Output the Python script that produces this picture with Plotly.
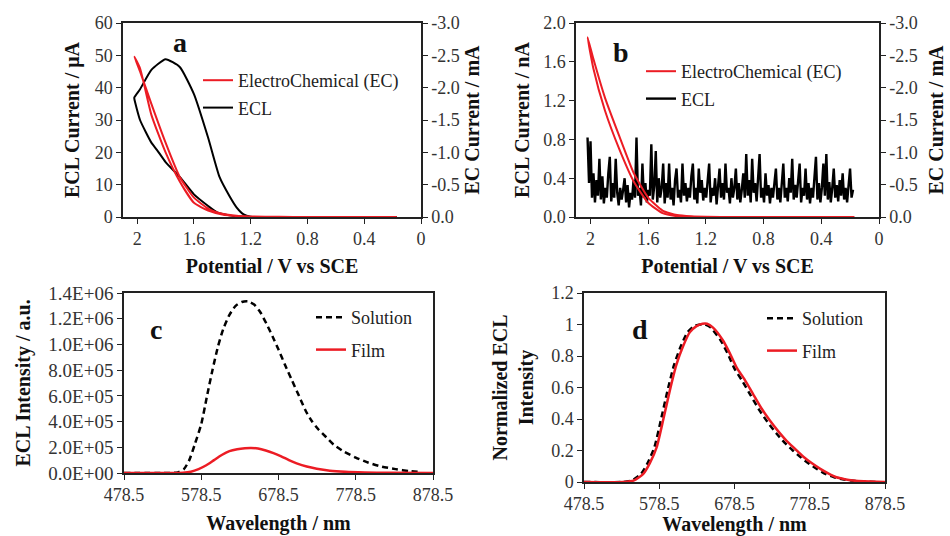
import plotly.graph_objects as go

# ---------------- Panel a : CV (EC, right axis, mA) + ECL (left axis, uA) ----------------
a_ec_v = [0.17, 0.4, 0.8, 1.0, 1.2, 1.3, 1.4, 1.5, 1.6, 1.7, 1.8, 1.9, 1.98, 2.02,
          1.98, 1.9, 1.8, 1.7, 1.6, 1.5, 1.4, 1.3, 1.2, 1.0, 0.8, 0.4, 0.17]
a_ec_ma = [0.0, 0.0, 0.0, -0.003, -0.008, -0.018, -0.05, -0.13, -0.3, -0.62, -1.15, -1.75, -2.25, -2.48,
           -2.3, -1.58, -1.0, -0.55, -0.22, -0.1, -0.04, -0.015, -0.006, 0.0, 0.0, 0.0, 0.0]
a_ecl_v = [0.17, 0.6, 1.0, 1.2, 1.25, 1.3, 1.35, 1.42, 1.5, 1.6, 1.7, 1.8, 1.9, 1.98, 2.02,
           2.02, 1.98, 1.9, 1.86, 1.8, 1.7, 1.6, 1.5, 1.44, 1.35, 1.3, 1.2, 0.17]
a_ecl_ua = [0.0, 0.0, 0.0, 0.1, 0.8, 3.0, 6.5, 12.4, 24.5, 38.0, 46.4, 48.8, 45.5, 39.5, 37.0,
            36.5, 30.0, 23.0, 20.7, 17.0, 12.4, 7.0, 3.4, 1.5, 0.5, 0.2, 0.0, 0.0]

# ---------------- Panel b : CV (EC, right axis, mA) + noisy ECL (left axis, nA) ----------------
b_ec_v = [0.17, 0.4, 0.8, 1.0, 1.2, 1.3, 1.4, 1.5, 1.6, 1.7, 1.8, 1.9, 1.98, 2.02,
          1.98, 1.9, 1.8, 1.7, 1.6, 1.5, 1.4, 1.3, 1.2, 1.0, 0.8, 0.4, 0.17]
b_ec_ma = [0.0, 0.0, 0.0, 0.0, -0.003, -0.01, -0.03, -0.1, -0.3, -0.68, -1.25, -1.85, -2.45, -2.78,
           -2.3, -1.65, -1.05, -0.55, -0.22, -0.06, -0.012, 0.0, 0.0, 0.0, 0.0, 0.0, 0.0]
b_ecl_v_start = 2.02
b_ecl_v_end = 0.18
b_ecl_na = [0.82, 0.35, 0.78, 0.2, 0.45, 0.15, 0.38, 0.22, 0.6, 0.18,
            0.42, 0.14, 0.3, 0.2, 0.45, 0.62, 0.16, 0.35, 0.2, 0.6,
            0.25, 0.12, 0.3, 0.18, 0.28, 0.4, 0.15, 0.33, 0.1, 0.25,
            0.18, 0.38, 0.2, 0.82, 0.22, 0.3, 0.12, 0.55, 0.2, 0.35,
            0.15, 0.28, 0.22, 0.75, 0.18, 0.32, 0.68, 0.15, 0.4, 0.2,
            0.3, 0.55, 0.14, 0.35, 0.2, 0.55, 0.18, 0.3, 0.12, 0.38,
            0.5, 0.2, 0.28, 0.15, 0.55, 0.22, 0.35, 0.16, 0.3, 0.2,
            0.42, 0.55, 0.18, 0.3, 0.14, 0.5, 0.25, 0.38, 0.17, 0.3,
            0.2, 0.36, 0.55, 0.15, 0.3, 0.22, 0.4, 0.13, 0.32, 0.5,
            0.2, 0.35, 0.18, 0.55, 0.25, 0.3, 0.14, 0.4, 0.2, 0.3,
            0.5, 0.18, 0.35, 0.15, 0.28, 0.45, 0.2, 0.65, 0.22, 0.38,
            0.15, 0.6, 0.25, 0.35, 0.16, 0.42, 0.65, 0.2, 0.3, 0.15,
            0.45, 0.22, 0.33, 0.14, 0.3, 0.2, 0.38, 0.5, 0.18, 0.3,
            0.15, 0.36, 0.55, 0.2, 0.3, 0.16, 0.4, 0.25, 0.6, 0.18,
            0.33, 0.2, 0.38, 0.55, 0.15, 0.3, 0.22, 0.5, 0.18, 0.35,
            0.14, 0.3, 0.2, 0.4, 0.62, 0.18, 0.35, 0.15, 0.3, 0.55,
            0.22, 0.65, 0.18, 0.36, 0.15, 0.3, 0.5, 0.2, 0.33, 0.16,
            0.38, 0.22, 0.45, 0.18, 0.3, 0.15, 0.35, 0.5, 0.2, 0.28]
n_b = len(b_ecl_na)
b_ecl_v = [b_ecl_v_start + (b_ecl_v_end - b_ecl_v_start) * i / (n_b - 1) for i in range(n_b)]

ec_tickvals = [0, -0.5, -1.0, -1.5, -2.0, -2.5, -3.0]
ec_ticktext = ["0.0", "-0.5", "-1.0", "-1.5", "-2.0", "-2.5", "-3.0"]

# ---------------- Panel c : ECL spectra (a.u.) ----------------
c_sol_nm = [478.5, 530, 548, 556, 563, 570, 578.5, 586, 593, 600, 607, 615, 623, 631, 639, 647,
            655, 663, 671, 678.5, 687, 696, 705, 714, 722, 730, 740, 750, 762, 778.5, 795, 812,
            830, 848, 860]
c_sol_au = [0, 0, 0.005e6, 0.03e6, 0.1e6, 0.22e6, 0.38e6, 0.6e6, 0.8e6, 0.98e6, 1.12e6, 1.23e6,
            1.3e6, 1.33e6, 1.335e6, 1.31e6, 1.25e6, 1.16e6, 1.06e6, 0.96e6, 0.84e6, 0.72e6, 0.6e6,
            0.48e6, 0.4e6, 0.34e6, 0.28e6, 0.22e6, 0.17e6, 0.12e6, 0.08e6, 0.05e6, 0.03e6,
            0.015e6, 0.01e6]
c_film_nm = [478.5, 540, 555, 565, 575, 585, 595, 605, 615, 625, 635, 643, 652, 662, 672, 682,
             692, 702, 715, 728, 745, 765, 790, 820, 878.5]
c_film_au = [0, 0, 0.002e6, 0.01e6, 0.03e6, 0.06e6, 0.1e6, 0.14e6, 0.17e6, 0.185e6, 0.193e6,
             0.195e6, 0.19e6, 0.175e6, 0.155e6, 0.13e6, 0.1e6, 0.075e6, 0.05e6, 0.033e6, 0.018e6,
             0.009e6, 0.004e6, 0.001e6, 0]
c_ytickvals = [0, 2e5, 4e5, 6e5, 8e5, 1.0e6, 1.2e6, 1.4e6]
c_yticktext = ["0.0E+00", "2.0E+05", "4.0E+05", "6.0E+05", "8.0E+05", "1.0E+06", "1.2E+06", "1.4E+06"]

# ---------------- Panel d : normalised ECL spectra ----------------
d_sol_nm = [478.5, 530, 542, 554, 563, 572, 581, 589.5, 598, 607, 616, 625, 633, 639, 647, 660,
            669, 678.5, 689, 700, 711, 722.5, 734, 745, 756, 767, 778, 789, 800, 811, 822, 833,
            847, 870]
d_sol_norm = [0, 0, 0.01, 0.05, 0.12, 0.22, 0.4, 0.58, 0.74, 0.86, 0.95, 0.99, 1.0, 1.0, 0.98,
              0.9, 0.82, 0.72, 0.64, 0.55, 0.46, 0.38, 0.31, 0.25, 0.2, 0.155, 0.115, 0.08, 0.05,
              0.03, 0.017, 0.01, 0.004, 0]
d_film_nm = [478.5, 530, 545, 557, 566, 575, 584, 592.5, 601, 610, 619, 628, 636, 642, 650, 663,
             672, 681, 692, 703, 714, 725.5, 737, 748, 759, 770, 781, 792, 803, 814, 825, 836,
             850, 878.5]
d_film_norm = [0, 0, 0.01, 0.05, 0.12, 0.22, 0.4, 0.58, 0.74, 0.86, 0.95, 0.99, 1.005, 1.005,
               0.98, 0.9, 0.82, 0.73, 0.65, 0.56, 0.47, 0.39, 0.32, 0.26, 0.21, 0.16, 0.12,
               0.085, 0.055, 0.03, 0.018, 0.01, 0.004, 0]

wl_tickvals = [478.5, 578.5, 678.5, 778.5, 878.5]
wl_ticktext = ["478.5", "578.5", "678.5", "778.5", "878.5"]

RED = "#ec1c24"
BLACK = "#000000"
FONT = "Liberation Serif, Times New Roman, Times, serif"
DASH = "6px,4px"

fig = go.Figure()

# panel a
fig.add_trace(go.Scatter(x=a_ec_v, y=a_ec_ma, mode="lines", name="ElectroChemical (EC)",
                         line=dict(color=RED, width=2, shape="spline", smoothing=0.5),
                         xaxis="x", yaxis="y2", legend="legend", legendgroup="a1"))
fig.add_trace(go.Scatter(x=a_ecl_v, y=a_ecl_ua, mode="lines", name="ECL",
                         line=dict(color=BLACK, width=2, shape="spline", smoothing=0.5),
                         xaxis="x", yaxis="y", legend="legend", legendgroup="a2"))
# panel b
fig.add_trace(go.Scatter(x=b_ecl_v, y=b_ecl_na, mode="lines", name="ECL",
                         line=dict(color=BLACK, width=2.4), xaxis="x2", yaxis="y3",
                         legend="legend2", legendgroup="b2", legendrank=2))
fig.add_trace(go.Scatter(x=b_ec_v, y=b_ec_ma, mode="lines", name="ElectroChemical (EC)",
                         line=dict(color=RED, width=2, shape="spline", smoothing=0.5),
                         xaxis="x2", yaxis="y4", legend="legend2", legendgroup="b1", legendrank=1))
# panel c
fig.add_trace(go.Scatter(x=c_sol_nm, y=c_sol_au, mode="lines", name="Solution",
                         line=dict(color=BLACK, width=2.5, dash=DASH, shape="spline",
                                   smoothing=0.6),
                         xaxis="x3", yaxis="y5", legend="legend3", legendgroup="c1"))
fig.add_trace(go.Scatter(x=c_film_nm, y=c_film_au, mode="lines", name="Film",
                         line=dict(color=RED, width=2.5, shape="spline", smoothing=0.6),
                         xaxis="x3", yaxis="y5", legend="legend3", legendgroup="c2"))
# panel d
fig.add_trace(go.Scatter(x=d_sol_nm, y=d_sol_norm, mode="lines", name="Solution",
                         line=dict(color=BLACK, width=2.5, dash=DASH, shape="spline",
                                   smoothing=0.6),
                         xaxis="x4", yaxis="y6", legend="legend4", legendgroup="d1"))
fig.add_trace(go.Scatter(x=d_film_nm, y=d_film_norm, mode="lines", name="Film",
                         line=dict(color=RED, width=2.5, shape="spline", smoothing=0.6),
                         xaxis="x4", yaxis="y6", legend="legend4", legendgroup="d2"))

tickfont = dict(family=FONT, size=18, color="#333333")
titlefont = dict(family=FONT, size=20, color="#111111", weight="bold")
common = dict(showline=True, linecolor="#222222", linewidth=1.5, ticks="outside", ticklen=5,
              tickcolor="#222222", tickwidth=1.2, showgrid=False, zeroline=False,
              tickfont=tickfont, automargin=False)

Wp, Hp = 950, 536
def xd(l, r):
    return [l / Wp, r / Wp]
def yd(t, b):
    return [1 - b / Hp, 1 - t / Hp]

fig.update_layout(
    width=Wp, height=Hp, margin=dict(l=0, r=0, t=0, b=0, autoexpand=False),
    paper_bgcolor="white", plot_bgcolor="white",
    font=dict(family=FONT, color="#222222"),
    xaxis=dict(domain=xd(123, 421), anchor="y", range=[2.1, 0], tick0=0, dtick=0.4, mirror=True,
               title=dict(text="Potential / V vs SCE", font=titlefont, standoff=11), **common),
    yaxis=dict(domain=yd(23, 217), anchor="x", range=[0, 60], dtick=10,
               title=dict(text="ECL Current / μA", font=titlefont, standoff=10), **common),
    yaxis2=dict(domain=yd(23, 217), anchor="x", overlaying="y", side="right", range=[0, -3],
                tickvals=ec_tickvals, ticktext=ec_ticktext,
                title=dict(text="EC Current / mA", font=titlefont, standoff=6), **common),
    xaxis2=dict(domain=xd(576, 879), anchor="y3", range=[2.1, 0], tick0=0, dtick=0.4, mirror=True,
                title=dict(text="Potential / V vs SCE", font=titlefont, standoff=11), **common),
    yaxis3=dict(domain=yd(23, 217), anchor="x2", range=[0, 2], dtick=0.4, tickformat=".1f",
                title=dict(text="ECL Current / nA", font=titlefont, standoff=8), **common),
    yaxis4=dict(domain=yd(23, 217), anchor="x2", overlaying="y3", side="right", range=[0, -3],
                tickvals=ec_tickvals, ticktext=ec_ticktext,
                title=dict(text="EC Current / mA", font=titlefont, standoff=12), **common),
    xaxis3=dict(domain=xd(124, 433), anchor="y5", range=[478.5, 878.5], tickvals=wl_tickvals,
                ticktext=wl_ticktext, mirror=True,
                title=dict(text="Wavelength / nm", font=titlefont, standoff=12), **common),
    yaxis5=dict(domain=yd(293, 473), anchor="x3", range=[0, 1.4e6], tickvals=c_ytickvals,
                ticktext=c_yticktext, mirror=True,
                title=dict(text="ECL Intensity / a.u.", font=titlefont, standoff=12), **common),
    xaxis4=dict(domain=xd(584, 885), anchor="y6", range=[478.5, 878.5], tickvals=wl_tickvals,
                ticktext=wl_ticktext, mirror=True,
                title=dict(text="Wavelength / nm", font=titlefont, standoff=3), **common),
    yaxis6=dict(domain=yd(293, 482), anchor="x4", range=[0, 1.2], dtick=0.2, mirror=True,
                title=dict(text="Normalized ECL<br>Intensity", font=titlefont, standoff=12), **common),
)
fig.update_yaxes(tickfont=dict(family=FONT, size=19, color="#333333"), selector=dict(anchor="x3"))

legfont = dict(family=FONT, size=18, color="#222222")
def leg(x, y, gap):
    return dict(x=x / Wp, y=1 - y / Hp, xanchor="left", yanchor="top", bgcolor="rgba(0,0,0,0)",
                font=legfont, tracegroupgap=gap, itemwidth=30)
fig.update_layout(
    legend=leg(198, 62, 1),
    legend2=leg(641, 53, 1),
    legend3=leg(311, 299, 6),
    legend4=leg(762, 300, 6),
)

labels = [("a", 180, 43), ("b", 621, 53), ("c", 156, 330), ("d", 640, 330)]
for txt, px, py in labels:
    fig.add_annotation(text=txt, x=px / Wp, y=1 - py / Hp, xref="paper", yref="paper",
                       xanchor="center", yanchor="middle", showarrow=False,
                       font=dict(family=FONT, size=28, color="#111111", weight="bold"))

fig.write_html("out.html", config={"displayModeBar": False},
               post_script="document.body.style.margin='0';")
